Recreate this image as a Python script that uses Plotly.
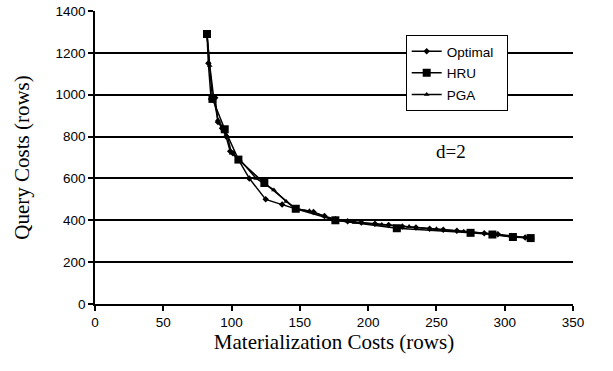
import plotly.graph_objects as go

# Optimal
opt_x = [82, 83, 85, 88, 90, 93, 96, 99, 101, 105, 113, 125, 137, 147, 160, 168, 176, 185, 195, 205, 215, 225, 235, 245, 255, 265, 275, 285, 295, 305, 315]
opt_y = [1290, 1150, 980, 985, 870, 840, 800, 730, 720, 690, 600, 500, 475, 455, 440, 420, 405, 395, 390, 383, 377, 370, 365, 360, 355, 350, 343, 338, 333, 325, 318]

# HRU
hru_x = [82, 86, 95, 105, 124, 147, 176, 221, 275, 291, 306, 319]
hru_y = [1290, 980, 835, 690, 578, 455, 400, 362, 340, 332, 320, 315]

# PGA
pga_x = [82, 84, 87, 90, 94, 97, 100, 106, 118, 131, 140, 147, 157, 168, 176, 190, 210, 230, 250, 270, 290, 305, 320]
pga_y = [1290, 1140, 980, 880, 840, 800, 720, 690, 600, 545, 490, 455, 445, 420, 400, 390, 380, 370, 360, 348, 335, 322, 315]

x_ticks = [0, 50, 100, 150, 200, 250, 300, 350]
y_ticks = [0, 200, 400, 600, 800, 1000, 1200, 1400]

fig = go.Figure()
fig.add_trace(go.Scatter(x=opt_x, y=opt_y, name="Optimal\u00a0\u00a0", mode="lines+markers",
                         legendgroup="a",
                         line=dict(color="black", width=1.5),
                         marker=dict(symbol="diamond", size=5, color="black")))
fig.add_trace(go.Scatter(x=hru_x, y=hru_y, name="HRU", mode="lines+markers",
                         legendgroup="b",
                         line=dict(color="black", width=1.5),
                         marker=dict(symbol="square", size=8, color="black")))
fig.add_trace(go.Scatter(x=pga_x, y=pga_y, name="PGA", mode="lines+markers",
                         legendgroup="c",
                         line=dict(color="black", width=1.5),
                         marker=dict(symbol="triangle-up", size=5, color="black")))

fig.add_annotation(x=261, y=731, text="d=2", showarrow=False,
                   font=dict(family="Liberation Serif", size=19, color="black"))

fig.update_layout(
    width=613, height=371,
    margin=dict(l=95, r=40, t=11, b=67),
    paper_bgcolor="white", plot_bgcolor="white",
    font=dict(family="Liberation Sans", size=13.5, color="black"),
    showlegend=True,
    legend=dict(x=0.65, y=0.918, xanchor="left", yanchor="top",
                bgcolor="white", bordercolor="black", borderwidth=1,
                font=dict(family="Liberation Sans", size=13.5, color="black"),
                traceorder="grouped", tracegroupgap=1),
    xaxis=dict(range=[0, 350], tickvals=x_ticks, showgrid=False,
               showline=True, linecolor="black", linewidth=1.5,
               ticks="outside", tickcolor="black", ticklen=5, tickwidth=1.5,
               zeroline=False, automargin=False,
               title=dict(text="Materialization Costs (rows)",
                          font=dict(family="Liberation Serif", size=21, color="black"),
                          standoff=5)),
    yaxis=dict(range=[0, 1400], tickvals=y_ticks, showgrid=True,
               gridcolor="black", gridwidth=1.5,
               showline=True, linecolor="black", linewidth=1.5,
               ticks="outside", tickcolor="black", ticklen=5, tickwidth=1.5,
               zeroline=False, automargin=False,
               title=dict(text="Query Costs (rows)",
                          font=dict(family="Liberation Serif", size=21, color="black"),
                          standoff=20)),
)

fig.write_html("out.html", post_script="document.body.style.margin='0';",
               config={"displayModeBar": False})
